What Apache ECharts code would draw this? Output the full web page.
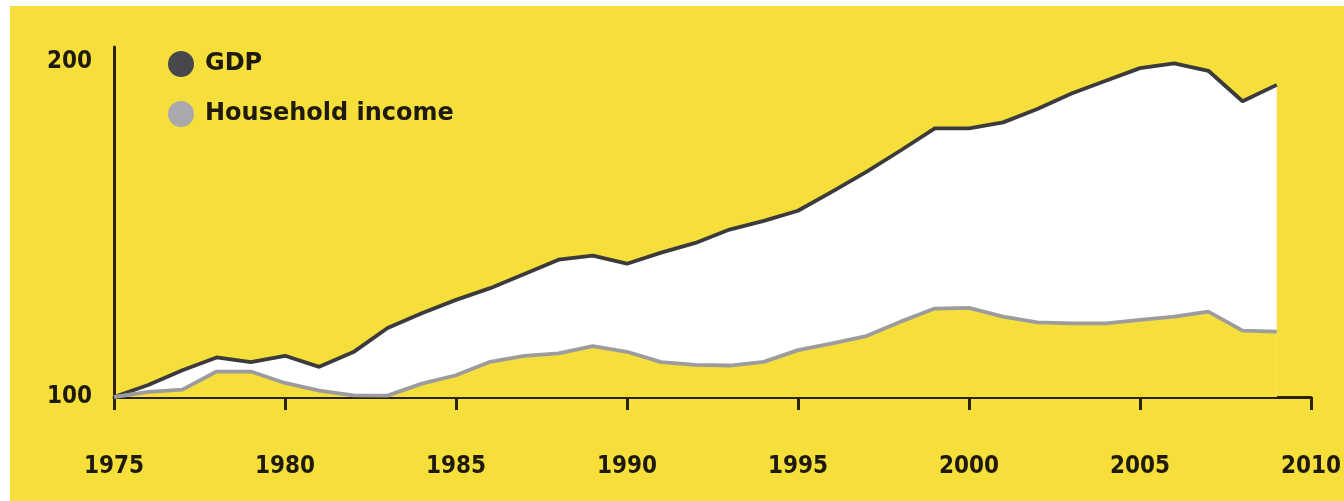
<!DOCTYPE html>
<html>
<head>
<meta charset="utf-8">
<script src="https://cdn.jsdelivr.net/npm/echarts@6/dist/echarts.min.js"></script>
<style>
html,body{margin:0;padding:0;background:#ffffff;width:1344px;height:501px;overflow:hidden;}
#chart{position:absolute;left:10px;top:6px;width:1334px;height:495px;background:#f6df3a;}
</style>
</head>
<body>
<div id="chart"></div>
<script>
const years = [1975,1976,1977,1978,1979,1980,1981,1982,1983,1984,1985,1986,1987,1988,1989,1990,1991,1992,1993,1994,1995,1996,1997,1998,1999,2000,2001,2002,2003,2004,2005,2006,2007,2008,2009];
const gdp = [100,103.6,108,111.8,110.4,112.3,109,113.4,120.6,125,129,132.5,136.7,141,142.2,139.8,143.1,146,150,152.6,155.6,161.3,167.2,173.6,180.2,180.2,182,186,190.6,194.4,198.2,199.6,197.4,188.3,193.2];
const household = [100,101.5,102.2,107.6,107.6,104.2,101.9,100.5,100.4,104,106.5,110.5,112.3,113,115.2,113.5,110.4,109.6,109.4,110.5,114,116,118.2,122.5,126.4,126.6,124,122.3,122,122,123,124,125.5,119.8,119.5];
const xTicks = {min:1975, max:2010, step:5};
const yTicks = [100, 200];
const seriesNames = ['GDP', 'Household income'];

const BG = '#f6df3a';
const chart = echarts.init(document.getElementById('chart'), null, {renderer:'canvas'});
const pairs = (arr) => years.map((y,i) => [y, arr[i]]);

const axisColor = '#2b2312';
const labelFont = {fontFamily:'DejaVu Sans Condensed', fontWeight:'bold', fontSize:24, color:'#1e1a10'};

chart.setOption({
  backgroundColor: 'transparent',
  animation: false,
  grid: {left:104, right:29, top:41, bottom:104, containLabel:false},
  legend: {
    orient: 'vertical',
    left: 153, top: 40,
    itemGap: 24,
    itemWidth: 26, itemHeight: 26,
    icon: 'circle',
    data: [
      {name: seriesNames[0], itemStyle:{color:'#48474c'}},
      {name: seriesNames[1], itemStyle:{color:'#a9a9ad'}}
    ],
    textStyle: {fontFamily:'DejaVu Sans', fontWeight:'bold', fontSize:24, color:'#1e1a10', padding:[0,0,0,6]}
  },
  xAxis: {
    type: 'value',
    min: xTicks.min, max: xTicks.max, interval: xTicks.step,
    axisLine: {show:true, lineStyle:{color:axisColor, width:3}},
    axisTick: {show:true, length:13, lineStyle:{color:axisColor, width:3}},
    splitLine: {show:false},
    axisLabel: Object.assign({margin:58, formatter: v => String(v)}, labelFont)
  },
  yAxis: {
    type: 'value',
    min: yTicks[0], max: 204.5, interval: 100,
    axisLine: {show:true, lineStyle:{color:axisColor, width:3}},
    axisTick: {show:false},
    splitLine: {show:false},
    axisLabel: Object.assign({margin:22, padding:[0,0,6,0], formatter: v => yTicks.includes(v) ? String(v) : ''}, labelFont)
  },
  series: [
    {
      name: seriesNames[0], type: 'line', data: pairs(gdp),
      symbol: 'none', lineStyle: {color:'#3b3a3c', width:3.8}, itemStyle:{color:'#48474c'},
      areaStyle: {color:'#ffffff', opacity:1, origin:'start'}, z:2
    },
    {
      name: seriesNames[1], type: 'line', data: pairs(household),
      symbol: 'none', lineStyle: {color:'#9c9c9f', width:3.8}, itemStyle:{color:'#a9a9ad'},
      areaStyle: {color:BG, opacity:1, origin:'start'}, z:3
    }
  ]
});
</script>
</body>
</html>
